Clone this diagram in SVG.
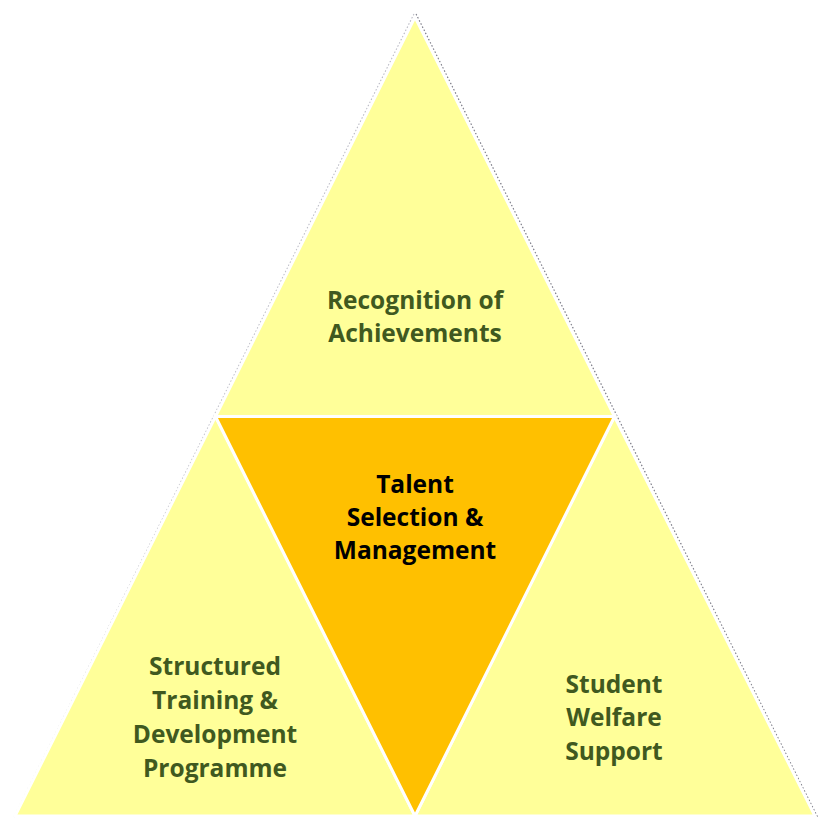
<svg xmlns="http://www.w3.org/2000/svg" width="831" height="831" viewBox="0 0 831 831">
  <style>
    .outer { fill: #FFFF99; stroke: #FFFFFF; stroke-width: 3; stroke-linejoin: miter; }
    .core { fill: #FFC000; stroke: #FFFFFF; stroke-width: 3; stroke-linejoin: miter; }
    .edge { fill: none; stroke-width: 1.3; stroke-dasharray: 1.5 2; }
    .lbl { font-family: "Open Sans", "Liberation Sans", sans-serif; font-weight: bold; font-size: 24.5px; text-anchor: middle; fill: #40591F; }
    .lbl.dark { fill: #000000; }
  </style>
  <rect width="831" height="831" fill="#FFFFFF"/>

  <!-- faint dotted outline along the outer slanted sides -->
  <g id="outline">
    <line class="edge" x1="414" y1="14" x2="14" y2="817" stroke="#BEBEC8"/>
    <line class="edge" x1="416" y1="14" x2="818" y2="818" stroke="#80808C"/>
  </g>

  <g id="top">
    <polygon class="outer" points="415,17 215.5,416.5 614.5,416.5"/>
    <text class="lbl" x="415" y="309">Recognition of</text>
    <text class="lbl" x="415" y="342">Achievements</text>
  </g>

  <g id="left">
    <polygon class="outer" points="215.5,416.5 15,816 415,816"/>
    <text class="lbl" x="215" y="675">Structured</text>
    <text class="lbl" x="215" y="709">Training &amp;</text>
    <text class="lbl" x="215" y="743">Development</text>
    <text class="lbl" x="215" y="777">Programme</text>
  </g>

  <g id="right">
    <polygon class="outer" points="614.5,416.5 415,816 815,816"/>
    <text class="lbl" x="614" y="693">Student</text>
    <text class="lbl" x="614" y="726">Welfare</text>
    <text class="lbl" x="614" y="760">Support</text>
  </g>

  <g id="center">
    <polygon class="core" points="215.5,416.5 614.5,416.5 415,816"/>
    <text class="lbl dark" x="415" y="493">Talent</text>
    <text class="lbl dark" x="415" y="526">Selection &amp;</text>
    <text class="lbl dark" x="415" y="559">Management</text>
  </g>
</svg>
